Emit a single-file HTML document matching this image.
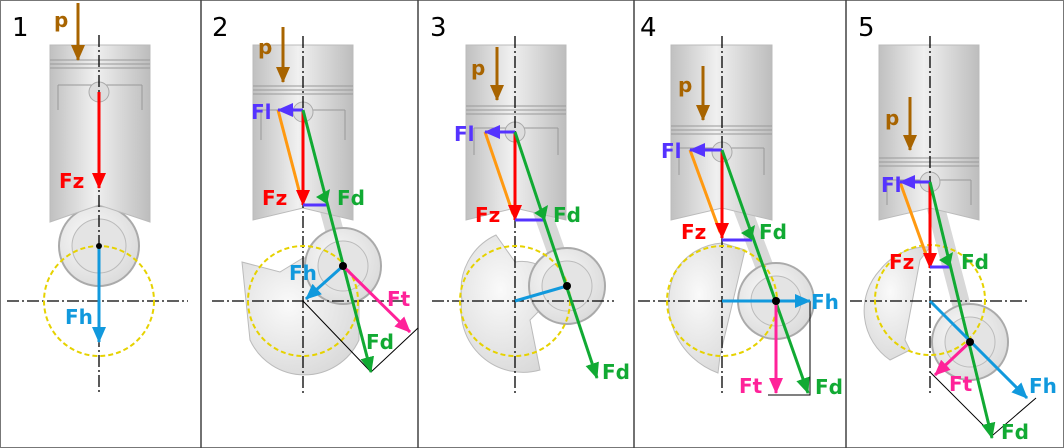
<!DOCTYPE html>
<html><head><meta charset="utf-8"><style>
html,body{margin:0;padding:0;background:#fff}
svg{display:block}
text{font-family:"DejaVu Sans","Liberation Sans",sans-serif;font-weight:bold;font-size:20px}
.n{font-weight:normal;font-size:26px;fill:#000}
</style></head><body>
<svg width="1064" height="448" viewBox="0 0 1064 448" xmlns="http://www.w3.org/2000/svg">
<defs>
<linearGradient id="pg" x1="0" x2="1" y1="0" y2="0">
<stop offset="0" stop-color="#c0c0c0"/><stop offset="0.45" stop-color="#f0f0f0"/><stop offset="1" stop-color="#bdbdbd"/></linearGradient>
<radialGradient id="wg" cx="0.4" cy="0.4" r="0.7"><stop offset="0" stop-color="#fafafa"/><stop offset="1" stop-color="#d8d8d8"/></radialGradient>
<marker id="mb" markerUnits="userSpaceOnUse" markerWidth="16" markerHeight="14" refX="15" refY="7" orient="auto"><path d="M0,0L16,7L0,14z" fill="#a86400"/></marker>
<marker id="mr" markerUnits="userSpaceOnUse" markerWidth="16" markerHeight="14" refX="15" refY="7" orient="auto"><path d="M0,0L16,7L0,14z" fill="#ff0000"/></marker>
<marker id="mc" markerUnits="userSpaceOnUse" markerWidth="16" markerHeight="14" refX="15" refY="7" orient="auto"><path d="M0,0L16,7L0,14z" fill="#1199dd"/></marker>
<marker id="mg" markerUnits="userSpaceOnUse" markerWidth="16" markerHeight="14" refX="15" refY="7" orient="auto"><path d="M0,0L16,7L0,14z" fill="#11aa33"/></marker>
<marker id="mp" markerUnits="userSpaceOnUse" markerWidth="16" markerHeight="14" refX="15" refY="7" orient="auto"><path d="M0,0L16,7L0,14z" fill="#ff2299"/></marker>
<marker id="mv" markerUnits="userSpaceOnUse" markerWidth="16" markerHeight="14" refX="15" refY="7" orient="auto"><path d="M0,0L16,7L0,14z" fill="#5533ff"/></marker>
</defs>
<rect x="0.5" y="0.5" width="1063" height="447" fill="#fff" stroke="#777"/>
<g stroke="#444" stroke-width="1.5"><line x1="201" y1="0" x2="201" y2="448"/><line x1="418" y1="0" x2="418" y2="448"/><line x1="634" y1="0" x2="634" y2="448"/><line x1="846" y1="0" x2="846" y2="448"/></g>

<!-- crank webs -->
<g fill="url(#wg)" stroke="#bbb" stroke-width="1">
<path d="M242,262 L280,272 L303,258 A56,56 0 0 1 359,301 L359,340 A60,60 0 0 1 250,340 Z"/>
<path d="M496,235 L515,262 A40,40 0 0 1 560,290 L530,320 L540,370 A62,62 0 0 1 462,300 A60,60 0 0 1 496,235Z"/>
<path d="M722,243 L745,250 L720,356 L718,373 A75,75 0 0 1 676,270 A60,60 0 0 1 722,243Z"/>
<path d="M930,247 L920,260 L905,340 L910,350 L890,360 A60,60 0 0 1 880,270 A60,60 0 0 1 930,247Z"/>
</g>
<!-- con rods -->
<g stroke="#d4d4d4" stroke-width="18" stroke-linecap="round" opacity="0.9">
<line x1="99" y1="95" x2="99" y2="240"/><line x1="303" y1="115" x2="343" y2="262"/><line x1="515" y1="135" x2="567" y2="282"/><line x1="722" y1="155" x2="776" y2="297"/><line x1="930" y1="185" x2="970" y2="338"/>
</g>
<g fill="url(#wg)" stroke="#aaa" stroke-width="2">
<circle cx="99" cy="246" r="40"/><circle cx="343" cy="266" r="38"/><circle cx="567" cy="286" r="38"/><circle cx="776" cy="301" r="38"/><circle cx="970" cy="342" r="38"/>
</g>
<g fill="#e4e4e4" stroke="#bbb"><circle cx="99" cy="246" r="27"/><circle cx="343" cy="266" r="25"/><circle cx="567" cy="286" r="25"/><circle cx="776" cy="301" r="25"/><circle cx="970" cy="342" r="25"/></g>
<!-- pistons -->
<g stroke="#bbb" stroke-width="1">
<path d="M50,45H150V222L99,205L50,222Z" fill="url(#pg)"/>
<path d="M253,45H353V220L303,208L253,220Z" fill="url(#pg)"/>
<path d="M466,45H566V220L515,208L466,220Z" fill="url(#pg)"/>
<path d="M671,45H772V220L722,208L671,220Z" fill="url(#pg)"/>
<path d="M879,45H979V220L930,208L879,220Z" fill="url(#pg)"/>
</g>
<g fill="none" stroke="#999" stroke-width="1">
<path d="M50,60H150M50,64H150M50,68H150M58,85H142M58,85V110M142,85V110"/>
<path d="M253,86H353M253,90H353M253,94H353M261,110H345M261,110V140M345,110V140"/>
<path d="M466,106H566M466,110H566M466,114H566M474,128H558M474,128V155M558,128V155"/>
<path d="M671,126H772M671,130H772M671,134H772M679,148H764M679,148V175M764,148V175"/>
<path d="M879,158H979M879,162H979M879,166H979M887,180H971M887,180V205M971,180V205"/>
</g>
<g fill="#ddd" stroke="#aaa"><circle cx="99" cy="92" r="10"/><circle cx="303" cy="112" r="10"/><circle cx="515" cy="132" r="10"/><circle cx="722" cy="152" r="10"/><circle cx="930" cy="182" r="10"/></g>

<!-- center lines -->
<g stroke="#000" stroke-width="1.3" stroke-dasharray="12 3 2 3" fill="none">
<line x1="99" y1="35" x2="99" y2="393"/><line x1="7" y1="301" x2="188" y2="301"/>
<line x1="303" y1="36" x2="303" y2="395"/><line x1="212" y1="301" x2="405" y2="301"/>
<line x1="515" y1="36" x2="515" y2="395"/><line x1="432" y1="301" x2="614" y2="301"/>
<line x1="722" y1="36" x2="722" y2="395"/><line x1="638" y1="301" x2="815" y2="301"/>
<line x1="930" y1="36" x2="930" y2="395"/><line x1="850" y1="301" x2="1030" y2="301"/>
</g>
<g stroke="#e6d200" stroke-width="2" stroke-dasharray="5 3" fill="none">
<circle cx="99" cy="301" r="55"/><circle cx="303" cy="301" r="55"/><circle cx="515" cy="301" r="55"/><circle cx="722" cy="301" r="55"/><circle cx="930" cy="300" r="55"/>
</g>
<g stroke="#000" stroke-width="1" fill="none">
<polyline points="303,301 371,372 418,328"/>
<polyline points="810,301 810,395 768,395"/>
<polyline points="930,372 993,435 1036,398"/>
</g>

<!-- forces -->
<g stroke-width="3" fill="none">
<line x1="78" y1="3" x2="78" y2="60" stroke="#a86400" marker-end="url(#mb)"/>
<line x1="99" y1="92" x2="99" y2="188" stroke="#ff0000" marker-end="url(#mr)"/>
<line x1="99" y1="246" x2="99" y2="342" stroke="#1199dd" marker-end="url(#mc)"/>

<line x1="283" y1="27" x2="283" y2="82" stroke="#a86400" marker-end="url(#mb)"/>
<line x1="278" y1="110" x2="301" y2="198" stroke="#ff9911"/>
<line x1="303" y1="110" x2="303" y2="205" stroke="#ff0000" marker-end="url(#mr)"/>
<line x1="303" y1="110" x2="278" y2="110" stroke="#5533ff" marker-end="url(#mv)"/>
<line x1="303" y1="205" x2="327" y2="205" stroke="#5533ff"/>
<line x1="303" y1="110" x2="371" y2="372" stroke="#11aa33" marker-end="url(#mg)"/>
<line x1="343" y1="266" x2="306" y2="299" stroke="#1199dd" marker-end="url(#mc)"/>
<line x1="343" y1="266" x2="410" y2="332" stroke="#ff2299" marker-end="url(#mp)"/>

<line x1="497" y1="47" x2="497" y2="100" stroke="#a86400" marker-end="url(#mb)"/>
<line x1="485" y1="132" x2="513" y2="214" stroke="#ff9911"/>
<line x1="515" y1="132" x2="515" y2="220" stroke="#ff0000" marker-end="url(#mr)"/>
<line x1="515" y1="132" x2="485" y2="132" stroke="#5533ff" marker-end="url(#mv)"/>
<line x1="515" y1="220" x2="545" y2="220" stroke="#5533ff"/>
<line x1="515" y1="132" x2="597" y2="378" stroke="#11aa33" marker-end="url(#mg)"/>
<line x1="515" y1="301" x2="567" y2="286" stroke="#1199dd"/>

<line x1="703" y1="66" x2="703" y2="120" stroke="#a86400" marker-end="url(#mb)"/>
<line x1="690" y1="150" x2="720" y2="232" stroke="#ff9911"/>
<line x1="722" y1="150" x2="722" y2="238" stroke="#ff0000" marker-end="url(#mr)"/>
<line x1="722" y1="150" x2="690" y2="150" stroke="#5533ff" marker-end="url(#mv)"/>
<line x1="722" y1="240" x2="752" y2="240" stroke="#5533ff"/>
<line x1="722" y1="150" x2="808" y2="393" stroke="#11aa33" marker-end="url(#mg)"/>
<line x1="722" y1="301" x2="810" y2="301" stroke="#1199dd" marker-end="url(#mc)"/>
<line x1="776" y1="301" x2="776" y2="393" stroke="#ff2299" marker-end="url(#mp)"/>

<line x1="910" y1="97" x2="910" y2="150" stroke="#a86400" marker-end="url(#mb)"/>
<line x1="900" y1="182" x2="928" y2="260" stroke="#ff9911"/>
<line x1="930" y1="182" x2="930" y2="268" stroke="#ff0000" marker-end="url(#mr)"/>
<line x1="930" y1="182" x2="900" y2="182" stroke="#5533ff" marker-end="url(#mv)"/>
<line x1="930" y1="267" x2="950" y2="267" stroke="#5533ff"/>
<line x1="930" y1="182" x2="992" y2="438" stroke="#11aa33" marker-end="url(#mg)"/>
<line x1="930" y1="301" x2="1027" y2="398" stroke="#1199dd" marker-end="url(#mc)"/>
<line x1="970" y1="342" x2="935" y2="375" stroke="#ff2299" marker-end="url(#mp)"/>
</g>
<g fill="#11aa33"><path d="M316,197L330,189L327,204Z"/><path d="M534,213L548,205L545,220Z"/><path d="M741,233L755,225L752,240Z"/><path d="M939,260L953,252L950,267Z"/></g>
<g fill="#000"><circle cx="99" cy="246" r="3"/><circle cx="343" cy="266" r="4"/><circle cx="567" cy="286" r="4"/><circle cx="776" cy="301" r="4"/><circle cx="970" cy="342" r="4"/></g>

<!-- labels -->
<text class="n" x="12" y="36">1</text><text class="n" x="212" y="36">2</text><text class="n" x="430" y="36">3</text><text class="n" x="640" y="36">4</text><text class="n" x="858" y="36">5</text>
<g fill="#a86400"><text x="54" y="27">p</text><text x="258" y="54">p</text><text x="471" y="75">p</text><text x="678" y="92">p</text><text x="885" y="125">p</text></g>
<g fill="#ff0000"><text x="59" y="188">Fz</text><text x="262" y="205">Fz</text><text x="475" y="222">Fz</text><text x="681" y="239">Fz</text><text x="889" y="269">Fz</text></g>
<g fill="#11aa33"><text x="337" y="205">Fd</text><text x="366" y="349">Fd</text><text x="553" y="222">Fd</text><text x="602" y="379">Fd</text><text x="759" y="239">Fd</text><text x="815" y="394">Fd</text><text x="961" y="269">Fd</text><text x="1001" y="439">Fd</text></g>
<g fill="#5533ff"><text x="251" y="119">Fl</text><text x="454" y="141">Fl</text><text x="661" y="158">Fl</text><text x="881" y="192">Fl</text></g>
<g fill="#1199dd"><text x="65" y="324">Fh</text><text x="289" y="280">Fh</text><text x="811" y="309">Fh</text><text x="1029" y="393">Fh</text></g>
<g fill="#ff2299"><text x="387" y="306">Ft</text><text x="739" y="393">Ft</text><text x="949" y="391">Ft</text></g>
</svg>
</body></html>
